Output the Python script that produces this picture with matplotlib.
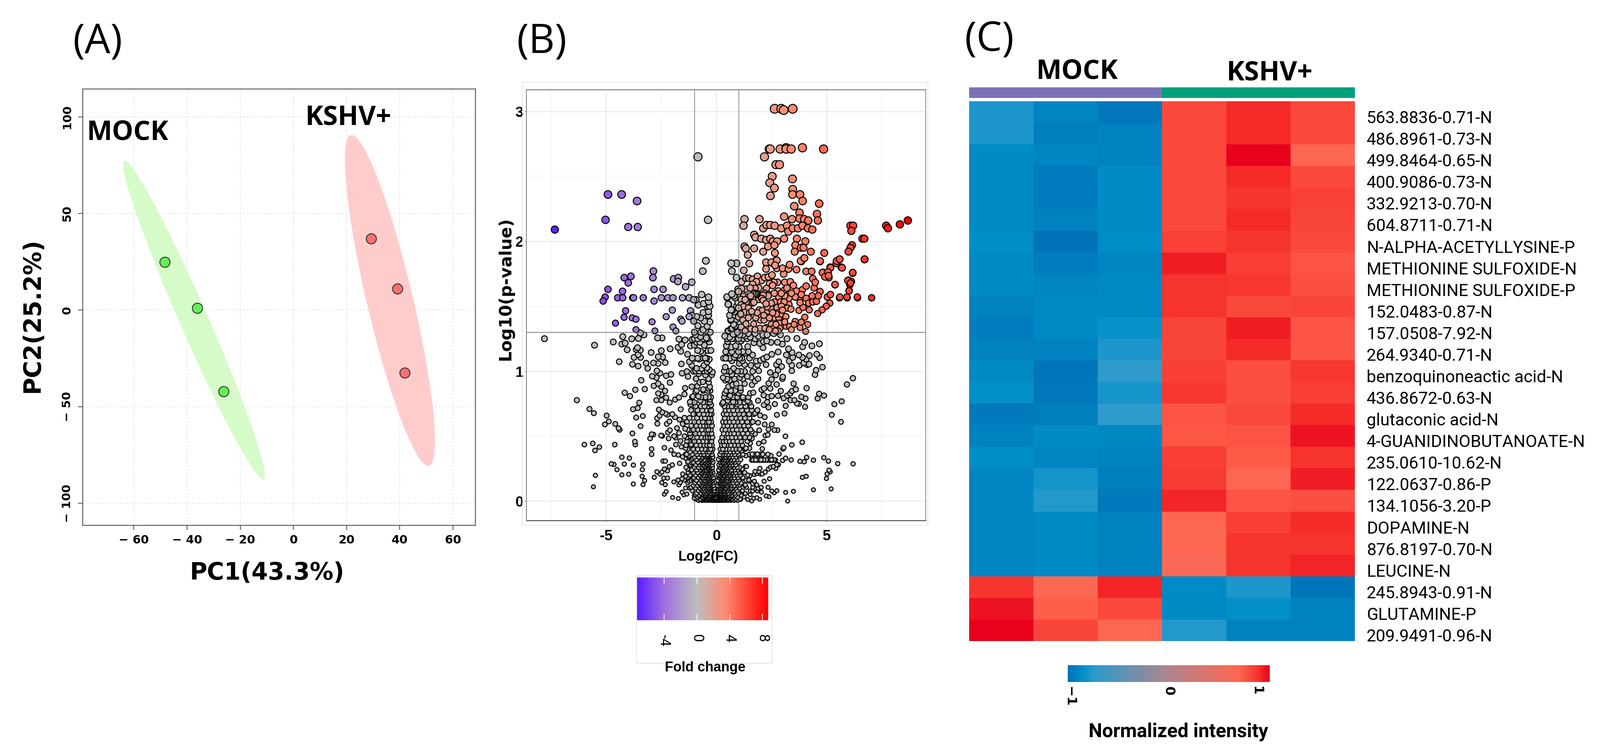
import numpy as np
import matplotlib
matplotlib.use('Agg')
import matplotlib.pyplot as plt
from matplotlib.colors import LinearSegmentedColormap, Normalize
from matplotlib.patches import Rectangle

W, H = 4380, 2063
narrow = ['Liberation Sans Narrow', 'Liberation Sans', 'DejaVu Sans']

# ---- panel A
mock_pc1 = [-48.4, -36.1, -26.2]
mock_pc2 = [24.9, 1.0, -42.0]
kshv_pc1 = [29.2, 39.2, 41.9]
kshv_pc2 = [36.9, 11.0, -32.5]
# ellipse tips and half width along PC1
mock_tips = [(-63.4, 77.2), (-11.4, -87.5)]
kshv_tips = [(21.9, 90.6), (50.7, -80.6)]
mock_halfw = 5.8
kshv_halfw = 8.9

# ---- panel B, (log2 fold change, -log10 p)
purple_pts = [(-4.92,2.36),(-4.3,2.36),(-3.6,2.31),(-5.03,2.165),(-4.0,2.11),(-3.57,2.11),(-7.33,2.09),
 (-4.18,1.72),(-3.88,1.73),(-4.0,1.68),(-2.86,1.77),(-2.88,1.72),(-1.94,1.71),(-1.73,1.72),(-1.75,1.69),
 (-1.12,1.685),(-1.4,1.65),(-4.92,1.63),(-4.26,1.615),(-2.83,1.63),(-2.42,1.63),(-5.05,1.57),(-5.14,1.54),
 (-4.48,1.565),(-4.25,1.565),(-3.8,1.565),(-3.76,1.565),(-3.32,1.565),(-2.83,1.54),(-2.5,1.565),(-2.2,1.565),
 (-1.97,1.565),(-1.54,1.565),(-1.24,1.565),(-1.03,1.55),(-2.0,1.47),(-4.12,1.465),(-4.19,1.415),(-3.82,1.41),
 (-3.65,1.4),(-4.58,1.37),(-2.28,1.42),(-2.92,1.38),(-1.62,1.4),(-1.56,1.385),(-1.18,1.465),(-1.12,1.43),
 (-1.24,1.42),(-1.03,1.385),(-1.97,1.34),(-1.84,1.31),(-3.65,1.32),(-2.79,1.31)]

red_pts = [(2.64,3.02),(2.94,3.02),(3.05,3.01),(3.46,3.02),(2.4,2.71),(2.44,2.71),(2.89,2.71),(3.16,2.72),(3.16,2.71),
 (3.39,2.71),(3.9,2.72),(4.86,2.71),(2.18,2.65),(2.7,2.59),(2.86,2.59),(2.53,2.5),(3.45,2.48),(2.42,2.45),(2.63,2.41),
 (3.46,2.4),(2.45,2.35),(3.45,2.36),(3.79,2.36),(3.91,2.31),(4.66,2.29),(3.53,2.27),(4.56,2.21),(3.77,2.22),(3.07,2.19),
 (4.6,2.16),(3.43,2.17),(3.77,2.175),(3.98,2.17),(4.17,2.16),(1.27,2.17),(1.95,2.17),(1.23,2.12),(2.12,2.1),(2.27,2.125),
 (2.44,2.125),(2.64,2.12),(2.94,2.1),(3.2,2.12),(3.26,2.075),(3.46,2.1),(3.7,2.1),(3.9,2.12),(4.15,2.1),(4.35,2.09),
 (6.08,2.12),(6.2,2.12),(6.12,2.08),(7.7,2.12),(7.78,2.1),(8.32,2.13),(8.68,2.16),(6.62,2.02),(6.71,2.02),(6.15,1.97),
 (6.08,1.95),(5.99,1.92),(6.72,1.86),(1.71,2.05),(1.77,2.03),(2.03,2.02),(2.25,2.01),(2.44,2.02),(2.56,2.0),(2.75,2.0),
 (3.07,2.02),(3.65,2.02),(4.03,2.0),(3.58,1.97),(3.83,1.95),(3.95,1.95),(2.34,1.96),(2.63,1.97),(1.27,1.96),(1.33,1.945),
 (1.71,1.945),(2.12,1.92),(2.65,1.91),(3.55,1.92),(4.28,1.92),(4.89,1.91),(1.42,1.895),(3.98,1.87),(3.85,1.845),(4.7,1.845),
 (2.27,1.83),(2.56,1.83),(2.69,1.85),(5.57,1.86),(5.44,1.83),(5.67,1.8),(5.16,1.8),(6.18,1.755),(4.85,1.76),(5.04,1.75),
 (5.1,1.72),(5.99,1.7),(6.12,1.69),(5.38,1.665),(6.05,1.665),(6.02,1.62),(5.93,1.565),(6.4,1.565),(7.04,1.565),(5.58,1.565),
 (1.49,1.829),(1.24,1.776),(1.14,1.688),(1.34,1.632),(1.34,1.716),(1.47,1.716),(1.64,1.707),(1.86,1.73),(2.05,1.698),(1.81,1.688),
 (1.64,1.669),(2.25,1.838),(2.25,1.787),(2.49,1.838),(2.74,1.792),(2.74,1.853),(2.66,1.815),(2.19,1.721),(2.36,1.726),(2.52,1.74),
 (2.77,1.684),(2.61,1.684),(2.41,1.674),(2.27,1.637),(1.92,1.641),(1.75,1.637),(1.53,1.641),(1.14,1.636),(1.0,1.613),(1.23,1.576),
 (1.45,1.571),(1.12,1.552),(1.36,1.533),(1.12,1.51),(1.23,1.496),(1.45,1.486),(1.64,1.524),(1.0,1.486),(1.28,1.453),(1.5,1.449),
 (1.0,1.416),(1.2,1.393),(1.34,1.364),(1.45,1.411),(1.69,1.364),(1.56,1.326),(1.97,1.331),(2.27,1.336),(2.0,1.393),(2.16,1.393),
 (2.49,1.36),(1.78,1.411),(1.94,1.472),(2.08,1.468),(2.33,1.463),(2.47,1.482),(2.3,1.496),(2.63,1.533),(2.49,1.524),(1.92,1.552),
 (2.14,1.566),(1.75,1.6),(2.19,1.6),(2.36,1.59),(2.8,1.618),(2.83,1.571),(2.91,1.533),(2.85,1.468),(2.96,1.411),(2.63,1.411),
 (2.58,1.331),(2.8,1.364),(3.02,1.35),(3.16,1.345),(3.32,1.345),(3.57,1.383),(3.52,1.36),(3.79,1.336),(3.85,1.378),(4.01,1.416),
 (4.14,1.36),(4.05,1.306),(3.1,1.627),(3.1,1.684),(3.05,1.749),(3.0,1.792),(3.27,1.787),(3.32,1.82),(3.63,1.782),(3.82,1.848),
 (3.99,1.871),(4.07,1.768),(4.32,1.768),(4.37,1.712),(4.7,1.848),(4.81,1.759),(5.17,1.796),(5.06,1.763),(4.92,1.726),(5.09,1.735),
 (5.45,1.848),(5.59,1.862),(5.7,1.796),(6.72,1.862),(6.18,1.759),(5.96,1.698),(6.08,1.679),(5.38,1.667),(6.02,1.618),(5.92,1.571),
 (5.6,1.571),(6.39,1.571),(5.03,1.571),(5.17,1.59),(5.14,1.524),(4.98,1.5),(4.79,1.472),(4.59,1.444),(3.74,1.468),(3.93,1.491),
 (4.21,1.472),(3.35,1.688),(3.49,1.66),(3.63,1.617),(3.9,1.627),(4.07,1.655),(4.43,1.641),(4.7,1.613),(4.48,1.684),(3.76,1.561),
 (3.57,1.571),(3.29,1.561),(3.1,1.58),(3.85,1.59),(4.07,1.561),(4.18,1.524),(4.37,1.533),(4.54,1.538),(4.34,1.58),(4.62,1.58),
 (3.79,1.528),(3.29,1.514),(3.21,1.486),(3.38,1.477),(3.07,1.533),(2.94,1.599),
 (1.7,1.595),(1.8,1.592),(1.9,1.59),(1.98,1.585),(2.04,1.58),(2.08,1.575),(2.12,1.57),(2.15,1.56),(2.1,1.55),(2.18,1.585),
 (2.26,1.58),(2.35,1.58),(2.12,1.585),(2.06,1.56),(2.12,1.545),(2.75,1.49),(2.8,1.45),(2.83,1.41),(2.85,1.37),(2.88,1.33),
 (2.8,1.31),(2.7,1.36),(2.92,1.44),(2.95,1.5),(2.72,1.44),
 (1.1,1.44),(1.12,1.34),(1.3,1.31),(1.75,1.32),(1.85,1.45),(2.15,1.43),(2.2,1.33),(2.4,1.41),(2.55,1.45),(1.6,1.46),(1.3,1.55),(1.55,1.58),
 (1.7,1.53),(2.25,1.52),(2.62,1.6),(2.55,1.66),(3.2,1.64),(3.4,1.6),(3.0,1.47),(3.15,1.42),(3.1,1.38),(2.4,1.32),(2.68,1.31),(3.4,1.32)]

gray_pts = [(-6.33,.777),(-5.76,.709),(-5.56,.677),(-4.98,.658),(-4.88,.613),(-5.06,.59),(-4.59,.594),(-4.44,.561),(-4.39,.549),
 (-5.99,.435),(-5.61,.444),(-5.51,.39),(-5.31,.416),(-4.61,.435),(-5.49,.198),(-5.58,.11),(-4.29,.338),(-3.95,.331),(-4.77,.287),
 (-4.65,.282),(-4.51,.242),(-4.18,.285),(-3.77,.277),(-4.29,.202),(-3.98,.207),(-3.77,.132),(-3.34,.285),(-3.36,.242),(-3.37,.191),
 (-3.26,.158),(-3.33,.127),(-3.81,.521),(-3.7,.458),(-3.68,.435),(-3.44,.577),(-3.64,.643),(-3.34,.655),(-3.78,.707),(-3.57,.716),
 (-3.5,.757),(-4.16,.834),(-3.92,.808),(-3.68,.857),(-3.25,.862),(-3.41,.93),(-4.41,1.073),(-4.68,1.225),(-4.25,1.266),(-4.29,1.209),
 (-4.14,1.216),(-4.05,1.165),(-3.84,1.249),(-3.54,1.252),(-3.29,1.28),(-3.45,1.294),(-3.64,1.167),(-3.58,1.181),(-3.45,1.162),
 (-3.55,1.128),(-3.74,1.106),(-3.44,1.106),(-3.81,1.053),(-3.55,1.039),(-3.19,1.062),(-3.12,1.022),(-2.96,1.144),(-2.86,1.064),
 (-2.67,1.256),(-2.47,1.256),(-2.1,1.172),(-2.5,1.158),(-2.64,1.111),(-2.44,1.109),(-2.32,1.066),(-2.64,1.059),(-2.7,1.003),
 (-2.91,.961),(-2.72,.951),(-2.56,.984),(-2.28,.965),(-2.06,.975),(-2.11,.912),(-2.84,.887),(-2.64,.904),(-2.5,.881),(-2.33,.848),
 (-2.64,.829),(-2.5,.82),(-2.72,.777),(-2.5,.777),(-2.28,.796),(-2.12,.759),(-1.87,.782),(-1.7,.798),(-1.45,.823),(-1.42,.87),
 (-1.62,.707),(-2.61,.704),(-2.46,.684),(-2.58,.658),(-2.69,.638),(-2.68,.596),(-2.31,.674),(-2.22,.665),(-2.0,.669),(-1.88,.646),
 (-2.13,.613),(-2.25,.594),(-1.67,.627),(-2.11,.546),(-2.17,.482),(-2.2,.529),(-2.94,.515),(-2.86,.512),(-3.01,.482),(-2.51,.505),
 (-2.46,.502),(-2.94,.402),(-2.94,.36),(-2.36,.411),(-2.06,.392),(-1.92,.36),(-1.84,.435),(-1.59,.418),(-1.73,.355),(-1.92,.5),
 (-1.85,.488),(-1.79,.562),(-1.7,.524),(-1.63,.463),(-2.42,.308),(-2.32,.308),(-2.0,.278),(-2.14,.266),(-2.36,.247),(-2.22,.233),
 (-2.47,.223),(-2.7,.225),(-2.57,.209),(-2.82,.183),(-2.39,.177),(-2.22,.177),(-2.48,.142),(-2.32,.127),(-1.93,.148),(-2.28,.073),
 (-2.36,.053),(-1.99,.028),(-1.73,.02),(-1.67,.291),(-1.74,.162),(-1.7,.125),(-1.53,.209),(-1.45,.162),(-1.4,.101),(-1.56,.069),
 (-1.34,.054),(-1.48,.048),(-1.7,1.247),(-1.42,1.24),(-1.58,1.205),(-1.74,1.184),(-1.62,1.153),(-1.31,1.13),(-1.18,1.195),(-1.1,1.244),
 (-.9,1.223),(-.75,1.223),(-1.59,1.056),(-1.56,.984),(-1.34,.998),(-1.29,.959),(-1.04,.998),(-1.12,1.045),(-1.23,1.073),(-1.01,1.097),
 (-.9,1.022),(-.79,1.092),(-.57,1.045),(-.73,1.266),(-.46,1.256),(-.32,1.225),(-.38,1.158),(-.71,1.153),(-.51,1.101),(-.32,1.092),
 (-.43,1.026),(-.32,1.012),(-.18,.993),(-.21,.972),(-.93,.942),(-.61,.918),(-.36,.942),(-.35,.914),(-1.12,.881),(-.86,.885),(-.76,.914),
 (-.36,.867),(-1.07,.806),(-.82,.806),(-1.18,.745),(-1.2,.763),(-.73,.773),(-.46,.792),(-.29,.782),(-.24,.74),
 (6.19,.946),(5.92,.898),(5.68,.768),(5.35,.746),(5.23,.664),(5.65,.61),(4.88,.812),(4.66,.826),(4.59,.79),(4.81,1.031),(4.68,1.104),
 (4.55,1.131),(4.67,1.211),(4.33,1.195),(4.0,1.222),(3.91,1.188),(4.22,1.12),(4.52,1.008),(4.47,.973),(3.65,1.252),(4.09,.869),(4.04,.79),
 (3.85,.803),(4.02,.726),(3.5,.904),(3.6,.86),(3.43,.848),(3.35,.829),(3.21,.812),(3.05,.792),(3.36,.777),(3.54,.777),(3.65,.752),(3.74,.749),
 (3.14,.733),(3.09,.674),(2.74,.664),(2.92,.848),(2.79,.81),(2.73,.898),(2.99,.942),(3.01,.956),(2.44,.99),(2.37,.906),(2.44,.867),(2.05,.857),
 (2.16,.867),(2.14,.815),(2.51,.808),(2.33,.801),(2.3,.763),(2.15,.74),(2.36,.721),(2.65,.747),(1.89,.773),(.26,.749),(3.13,.499),(3.42,.433),
 (3.89,.453),(3.02,.402),(3.05,.411),(2.84,.362),(4.09,.336),(3.79,.306),(3.98,.303),(4.4,.315),(4.87,.334),(5.08,.308),(5.5,.289),(6.2,.287),
 (3.39,.317),(3.14,.33),(3.0,.313),(5.11,.238),(5.16,.226),(5.02,.209),(4.99,.174),(3.9,.183),(4.07,.191),(4.4,.087),(5.2,.094),(3.49,.075),
 (3.14,.067),(2.74,.08),(2.62,.064),(2.51,.078),(2.34,.106),(2.38,.034),(2.25,.04),(3.23,.0),(2.41,.172),(2.16,.153),(1.96,.014),(1.83,.026),
 (2.04,.069),(1.6,.001),(2.74,.28),(2.81,.28),(2.69,.252),(2.58,.266),(2.46,.261),(2.36,.247),(2.21,.223),(1.97,.252),(2.0,.209),(1.83,.214),
 (1.72,.205),(1.52,.195),(2.22,.505),(2.15,.458),(2.33,.51),(2.36,.552),(2.51,.59),(2.63,.547),(2.77,.546),(2.19,.59),(2.19,.646),(1.92,.444),
 (2.08,.402),(2.08,.36),(2.33,.36),(2.47,.35),(.45,1.195),(.67,1.186),(.59,1.261),(.51,1.228),(.87,1.195),(.76,1.285),(1.12,1.233),(1.03,1.186),
 (1.31,1.271),(1.53,1.262),(1.31,1.139),(1.7,1.219),(1.64,1.125),(1.8,1.078),(1.97,1.214),(2.11,1.181),(2.11,1.28),(2.14,1.228),(2.47,1.222),
 (2.28,1.233),(2.77,1.223),(2.99,1.209),(2.8,1.148),(2.51,1.13),(2.29,1.109),(2.14,1.097),(2.0,1.083),(2.25,1.05),(1.86,1.048),(1.92,1.003),
 (2.83,1.073),(3.17,1.125),(3.3,1.078),(3.46,1.106),(3.27,1.172),(3.43,1.144),(3.74,1.125),(3.9,1.106),(4.07,1.092),(3.76,1.045),(3.96,1.064),
 (4.12,1.05),(4.2,1.054),(3.42,1.045),(3.42,1.003),(2.96,1.036),(2.72,1.05),(2.79,1.008),(2.69,.97),(2.5,.937),(.4,1.031),(.7,.975),(.56,.998),
 (.78,1.022),(1.03,1.059),(1.28,1.05),(1.28,.998),(1.56,1.045),(1.64,.998),(1.14,.975),(.81,1.106),(.7,1.08),(.87,1.125),(1.58,.951),(1.75,.923),
 (1.89,.942),(1.28,.904),(.9,.904),(.73,.895),(.54,.881),(.38,.83),(.62,.812),(.78,.841),(1.09,.871),(1.23,.79),(1.42,.771),(1.53,.83),(1.67,.835),
 (1.61,.895),(.51,.773),(.76,.763),(1.0,.83),(.92,.745),(1.75,.679),(1.86,.7),(1.98,.66),(1.58,.73),(1.58,.604),(1.89,.604),(1.94,.545),(1.75,.517),
 (1.61,.534),(1.61,.482),(1.42,.52),(1.53,.445),(1.5,.407),(1.36,.266),(1.28,.219),(1.5,.153),(1.72,.153),(1.89,.097),(1.65,.106),(2.03,.106),
 (1.53,.05),(1.36,.106),(.09,.322),
 (-.84,2.65),(-.38,2.165),(-.48,1.85),(-.62,1.77),(.67,1.83),(.91,1.83),(.7,1.77),(.91,1.72),(-.82,1.51),(-.67,1.59),(-.36,1.57),(-.42,1.5),
 (-.36,1.46),(-.36,1.43),(-.55,1.385),(-.84,1.35),(-.42,1.345),(-.36,1.535),(-.93,1.55),(.49,1.565),(.79,1.58),(.72,1.47),(.53,1.515),(.85,1.43),
 (.66,1.4),(.85,1.35),(.72,1.33),(.98,1.63),(.98,1.53),(.91,1.4),(.48,1.571),(.7,1.594),(.84,1.566),(.56,1.515),(.67,1.472),(.81,1.458),(.65,1.392),
 (.87,1.341),(.66,1.327),(-7.8,1.25),(-5.53,1.2),(-1.0,1.3),(-.6,1.32),(.95,1.3),(1.2,1.28),(1.45,1.29),(1.9,1.27),(2.3,1.28),(2.6,1.29),(2.9,1.28),(3.2,1.25),
 (-.7,1.3),(-.5,1.31),(-.28,1.3),(-.3,1.38),(-.3,1.5),(-.6,1.45),(-.72,1.41),(-.58,1.52),(-.9,1.42),(-.95,1.28),(-.55,1.2),(-.25,1.16),(-.85,1.16),
 (-1.0,1.2),(-.62,1.14),(-.42,1.07),(-.68,1.02),(-.5,.97),(-.8,.98),(-.6,.86),(-.95,.84),(-.3,.88),(.32,1.1),(.38,1.27),(.55,1.31),(.7,1.25),(.9,1.25),
 (1.05,1.28),(.42,1.1),(.62,1.14),(.98,1.12),(1.18,1.08),(1.42,1.19),(1.5,1.1),(1.75,1.29),(1.2,.94),(1.4,.96),(1.05,.95),(.82,.94),(.48,.94),(.3,.95),
 (.96,1.0),(.52,1.31),(.78,1.36),(.6,1.43),(.92,1.5)]

# shoulders of the V, less crowded than the core
shoulder_pts = [(-1.45,.641),(-1.34,.613),(-1.53,.594),(-1.42,.557),(-1.2,.547),(-1.45,.5),(-1.18,.5),(-1.34,.463),(-1.15,.435),(-1.4,.407),
 (-1.4,.36),(-1.53,.341),(-1.23,.35),(-1.07,.331),(-1.4,.331),(-1.29,.303),(-1.12,.294),(-1.31,.247),(-1.18,.238),(-1.31,.181),(-1.23,.153),
 (-1.07,.172),(-1.15,.106),(-.95,.05),(-1.01,.022),(-.84,.008),(-1.56,.172),(-1.4,.191),(-1.64,.144),
 (1.17,.247),(1.31,.266),(1.47,.162),(1.31,.125),(1.64,.134),(1.83,.125),(1.64,.078),(1.86,.078),(1.69,.022),(1.42,.012),(1.25,.031),(1.09,.012),
 (1.42,.2),(1.2,.177),(1.03,.219),(1.06,.125),(1.53,.078),(1.31,.059),(1.75,.228),(1.92,.228),(2.08,.209),(1.34,.35),(1.5,.36),(1.34,.407),
 (1.14,.388),(1.03,.35),(1.53,.482)]

# horizontal streaks in the grey cloud
streak_x = [1.6,1.66,1.72,1.78,1.84,1.9,1.96,2.02,2.08,2.14,2.2,2.26,2.32,2.38,2.44,2.5,2.56,2.62,2.68]
streak_y = [.315,.318,.315,.318,.315,.318,.315,.318,.315,.318,.315,.318,.315,.318,.315,.318,.315,.318,.315]
streak2_x = [1.5,1.56,1.62,1.68,1.74,1.8,1.86,1.92,1.98,2.04,2.1]
streak2_y = [.36,.35,.362,.35,.36,.35,.362,.35,.36,.35,.36]

# dense part of the V, one x list for each log10 p level
neg_y = [.005,.015,.03,.045,.06,.08,.1,.12,.14,.16,.18,.2,.22,.24,.26,.28,.3,.32,.34,.36,.38,.4,.43,.46,.49,.52,.55,.58,.61,.64,.67,.7,.73,.76,.8,.85,1.0,1.1,1.25]
neg_x = [[-.8,-.65,-.52,-.41,-.3,-.22,-.15,-.09,-.04],[-.95,-.72,-.58,-.46,-.36,-.27,-.19,-.12,-.06,-.02],[-.85,-.66,-.55,-.43,-.33,-.24,-.17,-.1,-.05],
 [-1.0,-.78,-.61,-.49,-.38,-.29,-.2,-.13,-.07],[-.9,-.7,-.56,-.44,-.35,-.25,-.16,-.09],[-1.1,-.82,-.65,-.52,-.41,-.31,-.22,-.14,-.08],
 [-1.22,-.95,-.75,-.6,-.47,-.36,-.27,-.18,-.11],[-1.05,-.85,-.68,-.54,-.42,-.31,-.21,-.13],[-1.3,-.98,-.78,-.62,-.48,-.37,-.26,-.16],
 [-1.15,-.9,-.7,-.55,-.43,-.3,-.19],[-1.32,-1.02,-.82,-.64,-.5,-.38,-.24,-.14],[-1.2,-.95,-.74,-.58,-.44,-.32,-.2],[-1.28,-1.05,-.85,-.66,-.52,-.39,-.26,-.16],
 [-1.12,-.9,-.72,-.57,-.45,-.33,-.21],[-1.38,-1.0,-.8,-.63,-.5,-.37,-.25,-.18],[-1.18,-.94,-.75,-.6,-.42,-.3,-.2],[-1.3,-1.05,-.84,-.66,-.52,-.38,-.24,-.16],
 [-1.12,-.9,-.7,-.55,-.44,-.32,-.21],[-1.25,-1.0,-.8,-.63,-.48,-.36,-.26,-.17],[-1.35,-1.1,-.88,-.72,-.57,-.41,-.29,-.2],[-1.2,-.95,-.76,-.6,-.46,-.33,-.23],
 [-1.3,-1.05,-.85,-.68,-.52,-.38,-.26,-.17],[-1.38,-1.12,-.92,-.74,-.56,-.42,-.3,-.2],[-1.25,-1.0,-.8,-.62,-.47,-.34,-.22],[-1.34,-1.08,-.88,-.7,-.54,-.4,-.28,-.18],
 [-1.2,-.96,-.76,-.6,-.45,-.32,-.22],[-1.3,-1.04,-.84,-.66,-.5,-.37,-.25],[-1.14,-.92,-.72,-.56,-.42,-.3,-.2],[-1.36,-1.0,-.8,-.62,-.47,-.34,-.24],
 [-1.22,-.88,-.68,-.52,-.38,-.27],[-1.05,-.78,-.58,-.44,-.3,-.22],[-1.15,-.86,-.64,-.48,-.33,-.24],[-.95,-.7,-.54,-.38,-.27],[-1.0,-.6,-.42,-.3],
 [-1.1,-.7,-.5,-.35,-.25],[-.9,-.6,-.4,-.28],[-.95,-.78,-.55,-.42],[-1.1,-.85,-.6,-.45],[-1.0,-.85,-.6,-.4]]
pos_y = [.005,.015,.03,.045,.06,.08,.1,.12,.14,.16,.18,.2,.22,.24,.26,.28,.3,.32,.34,.36,.38,.4,.43,.46,.49,.52,.55,.58,.61,.64,.67,.7,.73,.76,.8,.85,.93,1.0,1.1,1.15,1.25]
pos_x = [[.02,.08,.14,.21,.3,.4,.52,.65,.8,.95],[.04,.11,.18,.26,.35,.46,.58,.72,.88,1.08],[.06,.13,.2,.29,.39,.5,.63,.78,.95],[.03,.1,.17,.24,.33,.44,.56,.7,.86,1.12],
 [.07,.14,.22,.3,.41,.53,.66,.82,1.0],[.05,.12,.19,.27,.37,.48,.6,.75,.92,1.18],[.08,.16,.24,.33,.44,.56,.7,.86,1.05],[.05,.13,.21,.3,.4,.52,.65,.8,.98,1.28],
 [.1,.18,.27,.37,.48,.6,.75,.92,1.12],[.06,.15,.24,.34,.45,.57,.71,.88,1.02,1.34],[.12,.2,.3,.41,.53,.66,.82,.98,1.2],[.08,.17,.26,.37,.49,.62,.77,.93,1.08],
 [.14,.23,.33,.45,.57,.72,.87,1.02],[.1,.2,.3,.41,.54,.68,.82,.97,1.14],[.16,.26,.38,.5,.63,.78,.93,1.05],[.12,.22,.34,.46,.59,.73,.88],[.18,.29,.42,.55,.69,.84,1.0],
 [.14,.25,.37,.5,.64,.79,.94,1.1],[.2,.31,.44,.58,.73,.9],[.16,.27,.39,.53,.67,.83,1.0,1.2],[.22,.34,.47,.62,.78,.95],[.18,.29,.42,.56,.71,.88,1.05,1.3],
 [.24,.36,.5,.65,.82,1.0,1.18],[.2,.32,.45,.6,.76,.94,1.12,1.4],[.26,.39,.54,.7,.88,1.06,1.3,1.5],[.33,.47,.63,.8,.98,1.2],[.27,.41,.57,.74,.92,1.1,1.32,1.55],
 [.35,.5,.67,.85,1.04,1.25,1.45],[.3,.44,.6,.78,.96,1.16,1.4,1.65],[.38,.53,.7,.88,1.08,1.3,1.5],[.33,.47,.63,.82,1.02,1.22,1.48,1.7],[.42,.58,.76,.95,1.15,1.38,1.6],
 [.36,.52,.7,.9,1.1,1.32],[.3,.46,.65,.85,1.05,1.26,1.5],[.35,.55,.75,.95,1.2,1.45],[.45,.65,.85,1.1],[.4,.6],[.35,.45,.62,.9,1.1],[.5,.62,.95,1.05,1.15,1.5],
 [.42,.7,1.0,1.2,1.45],[.5,.65,.85,1.0,1.2,1.4,1.75]]
# darkest core of the V, levels between the rows above
core_y = [.01,.022,.037,.052,.07,.09,.11,.13,.15,.17,.19,.21,.23,.25,.27,.29,.31,.33,.35]
core_x = [[-.7,-.47,-.25,-.12,.06,.17,.34,.47,.7],[-.6,-.38,-.2,-.08,.1,.24,.41,.62],[-.75,-.5,-.28,-.14,.09,.24,.44,.7],[-.66,-.42,-.22,-.1,.12,.28,.48],
 [-.6,-.38,-.2,.1,.26,.45,.72],[-.7,-.45,-.26,.1,.23,.42,.68],[-.66,-.41,-.22,.12,.28,.5,.78],[-.74,-.48,-.26,.17,.35,.58],[-.66,-.42,-.22,.14,.32,.54],
 [-.62,-.36,-.24,.2,.39,.64],[-.7,-.44,-.28,.16,.35,.59],[-.66,-.38,-.25,.21,.43,.68],[-.6,-.45,-.3,.18,.39,.64],[-.64,-.39,-.26,.25,.47],[-.56,-.44,-.3,.21,.44,.7],
 [-.67,-.47,-.34,.28,.52],[-.6,-.45,-.3,.23,.48,.76],[-.65,-.38,-.27,.31,.57],[-.55,-.42,-.3,.26,.51]]

fc_ticks = [-4, 0, 4, 8]
fc_min, fc_max = -7.3, 8.7

# ---- panel C
metabolites = ['563.8836-0.71-N','486.8961-0.73-N','499.8464-0.65-N','400.9086-0.73-N','332.9213-0.70-N','604.8711-0.71-N',
 'N-ALPHA-ACETYLLYSINE-P','METHIONINE SULFOXIDE-N','METHIONINE SULFOXIDE-P','152.0483-0.87-N','157.0508-7.92-N','264.9340-0.71-N',
 'benzoquinoneactic acid-N','436.8672-0.63-N','glutaconic acid-N','4-GUANIDINOBUTANOATE-N','235.0610-10.62-N','122.0637-0.86-P',
 '134.1056-3.20-P','DOPAMINE-N','876.8197-0.70-N','LEUCINE-N','245.8943-0.91-N','GLUTAMINE-P','209.9491-0.96-N']
intensity = [[-.78,-.90,-.97,.80,.90,.80],[-.78,-.93,-.92,.80,.90,.80],[-.87,-.90,-.92,.80,1.0,.68],[-.87,-.95,-.87,.80,.90,.80],
 [-.87,-.95,-.87,.80,.87,.83],[-.87,-.92,-.87,.80,.90,.82],[-.86,-1.0,-.86,.83,.87,.80],[-.87,-.94,-.90,.93,.84,.76],
 [-.88,-.90,-.88,.88,.86,.78],[-.92,-.88,-.88,.88,.80,.82],[-.94,-.88,-.83,.82,.93,.76],[-.92,-.92,-.78,.82,.90,.76],
 [-.88,-.98,-.72,.84,.78,.86],[-.85,-.97,-.80,.86,.78,.84],[-.96,-.93,-.73,.76,.80,.90],[-.92,-.87,-.89,.75,.76,.96],
 [-.86,-.90,-.92,.84,.74,.88],[-.90,-.80,-.93,.85,.68,.93],[-.90,-.76,-.96,.92,.76,.78],[-.90,-.87,-.92,.68,.84,.90],
 [-.90,-.87,-.92,.68,.88,.88],[-.90,-.87,-.92,.63,.88,.92],[.87,.65,.92,-.87,-.78,-.98],[.96,.72,.80,-.88,-.85,-.92],[1.0,.82,.68,-.76,-.92,-.92]]
groups = ['MOCK', 'KSHV+']
group_colors = ['#7B72B8', '#00A07A']
heat_ticks = [-1, 0, 1]


def px_axes(left, top, right, bottom):
    return fig.add_axes([left / W, 1 - bottom / H, (right - left) / W, (bottom - top) / H])


def px_text(x, y, s, **kw):
    kw.setdefault('ha', 'center')
    kw.setdefault('va', 'center')
    return fig.text(x / W, 1 - y / H, s, **kw)


def tip_ellipse(tips, halfw):
    t = np.linspace(0, 2 * np.pi, 200)
    p0, p1 = np.array(tips[0]), np.array(tips[1])
    c = (p0 + p1) / 2
    a = (p0 - p1) / 2
    return c[0] + a[0] * np.cos(t) + halfw * np.sin(t), c[1] + a[1] * np.cos(t)


fig = plt.figure(figsize=(W / 100, H / 100), dpi=100, facecolor='white')

px_text(267, 116, '(A)', fontsize=80, family='Open Sans')
px_text(1483, 116, '(B)', fontsize=80, family='Open Sans')
px_text(2708, 110, '(C)', fontsize=80, family='Open Sans')

# %% panel A
ax = px_axes(226, 243, 1301, 1437)
ax.fill(*tip_ellipse(mock_tips, mock_halfw), color='#D5FBC8', lw=0, zorder=2)
ax.fill(*tip_ellipse(kshv_tips, kshv_halfw), color='#FFCCCC', lw=0, zorder=2)
ax.scatter(mock_pc1, mock_pc2, s=400, c='#66EE55', edgecolors='#222222', linewidths=1.6, zorder=3)
ax.scatter(kshv_pc1, kshv_pc2, s=400, c='#F87070', edgecolors='#222222', linewidths=1.6, zorder=3)
ax.set_xlim(-79.3, 68.4)
ax.set_ylim(-111.3, 114.5)
ax.set_xticks([-60, -40, -20, 0, 20, 40, 60])
ax.set_xticklabels(['\u2212 60', '\u2212 40', '\u2212 20', '0', '20', '40', '60'], fontsize=23, fontweight='bold')
ax.set_yticks([-100, -50, 0, 50, 100])
ax.set_yticklabels(['\u2212 100', '\u2212 50', '0', '50', '100'], fontsize=23, fontweight='bold', rotation=90, va='center')
ax.tick_params(length=9, width=1.5, color='#444444', pad=10)
ax.grid(True, ls=(0, (1.5, 3)), color='#D8D8D8', lw=1.5)
ax.set_axisbelow(True)
for s in ax.spines.values():
    s.set_color('#666666')
    s.set_linewidth(2)
px_text(731, 1568, 'PC1(43.3%)', fontsize=46.5, fontweight='bold')
px_text(89, 863, 'PC2(25.2%)', fontsize=46.5, fontweight='bold', rotation=90)
px_text(349, 364, 'MOCK', fontsize=53, fontweight='bold', family='Open Sans')
px_text(953, 322, 'KSHV+', fontsize=53, fontweight='bold', family='Open Sans')

# %% panel B
fig.add_artist(Rectangle((1430 / W, 1 - 1437 / H), 1110 / W, 1212 / H, transform=fig.transFigure,
                         fill=False, edgecolor='#E2E2E2', lw=1.2))
ax = px_axes(1441, 245, 2534, 1424)
fc_cmap = LinearSegmentedColormap.from_list('fc', [(0, '#5A1EFF'), (3.3 / 16, '#A070E0'), (7.3 / 16, '#BEBEBE'),
                                                   (10.8 / 16, '#FF8A70'), (1, '#FF0000')])
fc_norm = Normalize(fc_min, fc_max)

dense_gray = [(x, y) for y, xs in zip(neg_y, neg_x) for x in xs]
dense_gray += [(x, y) for y, xs in zip(pos_y, pos_x) for x in xs]
dense_gray += [(x, y) for y, xs in zip(core_y, core_x) for x in xs]
dense_gray += list(zip(streak_x, streak_y)) + list(zip(streak2_x, streak2_y))
gray = np.array(gray_pts + shoulder_pts + dense_gray)
gray = gray[np.argsort(gray[:, 1])]
coloured = np.array(purple_pts + red_pts)


def point_size(y):
    return ((10.5 + 4.5 * y) * 0.72) ** 2


ax.scatter(gray[:, 0], gray[:, 1], s=point_size(gray[:, 1]), c='#BEBEBE', edgecolors='#050505', linewidths=2.0, zorder=3)
ax.scatter(coloured[:, 0], coloured[:, 1], s=point_size(coloured[:, 1]), c=fc_cmap(fc_norm(coloured[:, 0])),
           edgecolors='#050505', linewidths=2.0, zorder=4)
ax.set_xlim(-8.62, 9.49)
ax.set_ylim(-0.149, 3.168)
ax.set_xticks([-5, 0, 5])
ax.set_xticks([-7.5, -2.5, 2.5, 7.5], minor=True)
ax.set_yticks([0, 1, 2, 3])
ax.set_yticks([.5, 1.5, 2.5], minor=True)
ax.set_xticklabels(['-5', '0', '5'], fontsize=29, fontweight='bold', family=narrow)
ax.set_yticklabels(['0', '1', '2', '3'], fontsize=29, fontweight='bold', family=narrow)
ax.tick_params(which='major', length=3, width=1, color='#444444', pad=3)
ax.tick_params(axis='x', which='major', pad=14)
ax.tick_params(which='minor', length=0)
ax.grid(True, which='major', color='#EBEBEB', lw=2.2)
ax.grid(True, which='minor', color='#F1F1F1', lw=1.2)
ax.set_axisbelow(True)
ax.axvline(-1, color='#555555', lw=1.0, zorder=5)
ax.axvline(1, color='#555555', lw=1.0, zorder=5)
ax.axhline(1.3, color='#666666', lw=2.0, ls=(0, (0.6, 0.3)), zorder=5)
ax.spines['top'].set_color('#999999')
ax.spines['top'].set_linewidth(2.5)
ax.spines['bottom'].set_color('#666666')
ax.spines['bottom'].set_linewidth(2.2)
ax.spines['left'].set_color('#777777')
ax.spines['right'].set_color('#888888')
ax.spines['left'].set_linewidth(1.5)
ax.spines['right'].set_linewidth(1.5)
px_text(1384, 790, 'Log10(p-value)', fontsize=33, fontweight='bold', rotation=90)
px_text(1939, 1524, 'Log2(FC)', fontsize=27, fontweight='bold', family=narrow)

# colour legend for fold change
fig.add_artist(Rectangle((1742 / W, 1 - 1814 / H), 371 / W, 240 / H, transform=fig.transFigure,
                         fill=False, edgecolor='#D5D5D5', lw=1))
cax = px_axes(1744, 1580, 2103, 1697)
cax.imshow(np.linspace(fc_min, fc_max, 256).reshape(1, -1), cmap=fc_cmap, norm=fc_norm, aspect='auto',
           extent=[fc_min, fc_max, 0, 1])
for v in fc_ticks:
    cax.plot([v, v], [0, .14], color='white', lw=1.4)
    cax.plot([v, v], [.86, 1], color='white', lw=1.4)
cax.set_xlim(fc_min, fc_max)
cax.set_ylim(0, 1)
cax.set_xticks(fc_ticks)
cax.set_xticklabels(['-4', '0', '4', '8'], fontsize=28, rotation=-90, family='Roboto', va='top')
cax.set_yticks([])
cax.tick_params(axis='x', length=0, pad=28)
for s in cax.spines.values():
    s.set_visible(False)
px_text(1930, 1827, 'Fold change', fontsize=27, fontweight='bold', family=narrow)

# %% panel C
ax = px_axes(2653, 277, 3709, 1754)
heat_cmap = LinearSegmentedColormap.from_list('heat', [(0, '#0072B8'), (.07, '#008EC8'), (.13, '#2C9BCC'), (.5, '#B0848F'),
                                                       (.85, '#FF6650'), (.95, '#F52E2A'), (1, '#E8001C')])
ax.pcolormesh(np.array(intensity), cmap=heat_cmap, vmin=-1, vmax=1, rasterized=True)
ax.set_ylim(len(metabolites), 0)
ax.set_xticks([])
ax.set_yticks(np.arange(len(metabolites)) + 0.72)
ax.yaxis.tick_right()
ax.set_yticklabels(metabolites, fontsize=33.5, family='Roboto')
ax.tick_params(axis='y', length=0, pad=23)
for s in ax.spines.values():
    s.set_visible(False)

ann = px_axes(2653, 239, 3709, 268)
ann.barh([0, 0], [3, 3], left=[0, 3], height=1, color=group_colors)
ann.set_xlim(0, 6)
ann.set_ylim(-.5, .5)
ann.axis('off')
px_text(2948, 197, groups[0], fontsize=53, fontweight='bold', family='Open Sans')
px_text(3475, 200, groups[1], fontsize=53, fontweight='bold', family='Open Sans')

cax = px_axes(2923, 1820, 3476, 1866)
cax.imshow(np.linspace(-1, 1, 256).reshape(1, -1), cmap=heat_cmap, vmin=-1, vmax=1, aspect='auto',
           extent=[-1, 1, 0, 1])
cax.set_xticks([-.98, 0, .87])
cax.set_xticklabels(['\u22121', '0', '1'], fontsize=26, fontweight='bold', rotation=-90, va='top')
cax.set_yticks([])
cax.tick_params(axis='x', length=0, pad=9)
for s in cax.spines.values():
    s.set_visible(False)
px_text(3226, 2002, 'Normalized intensity', fontsize=38, fontweight='bold', family='Roboto')

fig.savefig('out.png', dpi=100)
